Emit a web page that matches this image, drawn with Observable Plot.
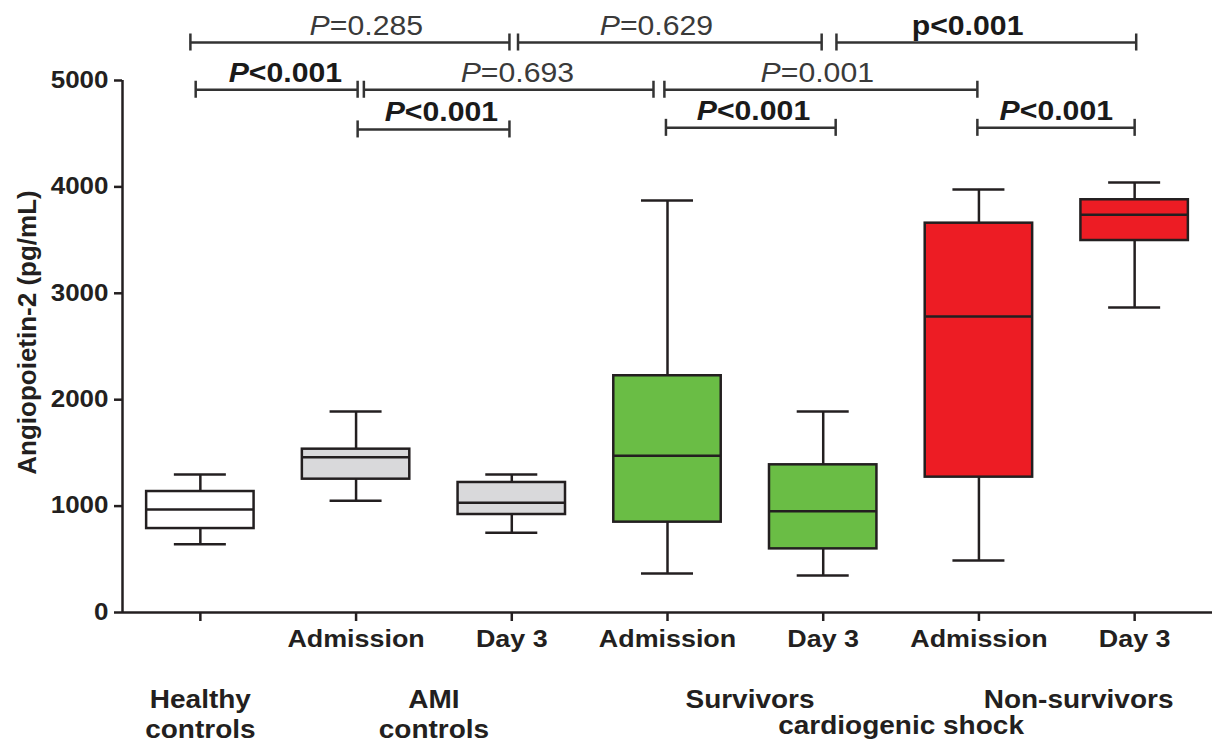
<!DOCTYPE html>
<html><head><meta charset="utf-8">
<script src="https://cdn.jsdelivr.net/npm/d3@7"></script>
<script src="https://cdn.jsdelivr.net/npm/@observablehq/plot@0.6"></script>
<style>body{margin:0;background:#fff} svg{display:block}</style>
</head><body><div id="chart"></div>
<script>
// ---- data ----
const categories = ["Healthy controls", "AMI Admission", "AMI Day 3", "Survivors Admission", "Survivors Day 3", "Non-survivors Admission", "Non-survivors Day 3"];
const tickLabels = ["", "Admission", "Day 3", "Admission", "Day 3", "Admission", "Day 3"];
const whiskerLow  = [642, 1050, 749, 367, 348, 489, 2867];
const q1          = [789, 1253, 921, 849, 598, 1272, 3496];
const median      = [968, 1460, 1031, 1473, 952, 2782, 3738];
const q3          = [1137, 1535, 1222, 2225, 1388, 3659, 3879];
const whiskerHigh = [1297, 1889, 1297, 3872, 1889, 3976, 4041];
const fills = ["#ffffff", "#d9d9db", "#d9d9db", "#6abd45", "#6abd45", "#ed1c24", "#ed1c24"];
const yTicks = [0, 1000, 2000, 3000, 4000, 5000];
const groupLine1 = [
  {text: "Healthy\ncontrols", pos: 0},
  {text: "AMI\ncontrols", pos: 1.5},
  {text: "Survivors", pos: 3.53},
  {text: "Non-survivors", pos: 5.64}
];
const groupLine2 = [{text: "cardiogenic shock", pos: 4.5}];
// comparisons: from/to in category index units, level = y value, label placed at compLabelAt
const compFrom    = [-0.064, 2.04, 4.085, -0.03, 1.05, 2.98, 1.01, 2.99, 4.99];
const compTo      = [1.985, 3.99, 6.01, 1.01, 2.91, 4.99, 1.985, 4.08, 6.0];
const compLevel   = [5357, 5357, 5357, 4913, 4913, 4913, 4540, 4555, 4555];
const compLabel   = ["P=0.285", "P=0.629", "p<0.001", "P<0.001", "P=0.693", "P=0.001", "P<0.001", "P<0.001", "P<0.001"];
const compBold    = [false, false, true, true, false, false, true, true, true];
const compLabelAt = [1.066, 2.929, 4.927, 0.546, 2.036, 3.962, 1.548, 3.552, 5.497];

// ---- derived tables ----
const boxes = categories.map((c, i) => ({i, c, lo: whiskerLow[i], q1: q1[i], med: median[i], q3: q3[i], hi: whiskerHigh[i], fill: fills[i]}));
const comps = compLabel.map((l, k) => ({x1: compFrom[k], x2: compTo[k], y: compLevel[k], label: l, bold: compBold[k], at: compLabelAt[k]}));
const compEnds = comps.flatMap(d => [{x: d.x1, y: d.y}, {x: d.x2, y: d.y}]);

const xDomain = [-0.5, categories.length - 0.5];
const boxHalf = 0.345, capHalf = 0.167, endTick = 80;
const ink = "#231f20";
const font = "'Liberation Sans', Arial, Helvetica, sans-serif";

const chart = Plot.plot({
  width: 1215,
  height: 744,
  marginLeft: 122,
  marginRight: 3,
  marginTop: 12,
  marginBottom: 132,
  style: {fontFamily: font, color: ink, background: "#fff"},
  x: {type: "linear", domain: xDomain},
  y: {domain: [0, 5639]},
  color: {type: "identity"},
  marks: [
    // axes
    Plot.axisY({ticks: yTicks, tickFormat: d => String(d), tickSize: 8, tickPadding: 6, strokeWidth: 2.5, fontSize: 23, fontWeight: "bold", label: null}),
    Plot.axisX({ticks: d3.range(categories.length), tickFormat: i => tickLabels[i], tickSize: 9, tickPadding: 8, strokeWidth: 2.5, fontSize: 24, fontWeight: "bold", label: null}),
    Plot.ruleX([xDomain[0]], {y1: 0, y2: yTicks[yTicks.length - 1], stroke: ink, strokeWidth: 2.5}),
    Plot.ruleY([0], {stroke: ink, strokeWidth: 2.5}),
    // whiskers
    Plot.ruleX(boxes, {x: "i", y1: "lo", y2: "q1", stroke: ink, strokeWidth: 2.5}),
    Plot.ruleX(boxes, {x: "i", y1: "q3", y2: "hi", stroke: ink, strokeWidth: 2.5}),
    Plot.ruleY(boxes, {y: "lo", x1: d => d.i - capHalf, x2: d => d.i + capHalf, stroke: ink, strokeWidth: 2.5}),
    Plot.ruleY(boxes, {y: "hi", x1: d => d.i - capHalf, x2: d => d.i + capHalf, stroke: ink, strokeWidth: 2.5}),
    // boxes
    Plot.rect(boxes, {x1: d => d.i - boxHalf, x2: d => d.i + boxHalf, y1: "q1", y2: "q3", fill: "fill", stroke: ink, strokeWidth: 2.5}),
    Plot.ruleY(boxes, {y: "med", x1: d => d.i - boxHalf, x2: d => d.i + boxHalf, stroke: ink, strokeWidth: 2.5}),
    // comparison brackets
    Plot.ruleY(comps, {y: "y", x1: "x1", x2: "x2", stroke: "#333", strokeWidth: 2.5}),
    Plot.ruleX(compEnds, {x: "x", y1: d => d.y - endTick, y2: d => d.y + endTick, stroke: "#333", strokeWidth: 2.5}),
    Plot.text(comps.filter(d => !d.bold), {x: "at", y: "y", text: "label", lineAnchor: "bottom", dy: -8, fontSize: 27, fill: "#3a3a3a"}),
    Plot.text(comps.filter(d => d.bold), {x: "at", y: "y", text: "label", lineAnchor: "bottom", dy: -8, fontSize: 27, fontWeight: "bold", fill: "#1a1a1a"}),
    // y label
    Plot.text(["Angiopoietin-2 (pg/mL)"], {frameAnchor: "left", textAnchor: "middle", rotate: -90, dx: -95, dy: 20, fontSize: 26, fontWeight: "bold", fill: ink}),
    // group labels
    Plot.text(groupLine1, {x: "pos", text: "text", frameAnchor: "bottom", lineAnchor: "top", dy: 74, lineHeight: 1.2, fontSize: 25, fontWeight: "bold", fill: ink}),
    Plot.text(groupLine2, {x: "pos", text: "text", frameAnchor: "bottom", lineAnchor: "top", dy: 104, fontSize: 25, fontWeight: "bold", fill: ink})
  ]
});
// italic capital P in the P-value labels
chart.querySelectorAll("text").forEach(t => {
  if (t.children.length === 0 && /^P[=<]/.test(t.textContent)) {
    const rest = t.textContent.slice(1);
    t.textContent = "";
    const ts = document.createElementNS("http://www.w3.org/2000/svg", "tspan");
    ts.setAttribute("font-style", "italic");
    ts.textContent = "P";
    t.appendChild(ts);
    t.appendChild(document.createTextNode(rest));
  }
});
// the reference's lettering is slightly wide: stretch text horizontally about its anchor
chart.querySelectorAll("text").forEach(t => {
  const tr = t.getAttribute("transform") || "";
  if (/rotate/.test(tr)) return;
  const isYTick = /^\d+$/.test(t.textContent);
  const s = isYTick ? 1.13 : 1.12;
  if (/translate/.test(tr)) t.setAttribute("transform", tr + ` scale(${s},1)`);
  else {
    const x = +(t.getAttribute("x") || 0);
    t.setAttribute("transform", `translate(${x},0) scale(${s},1) translate(${-x},0)` + (tr ? " " + tr : ""));
  }
});
document.getElementById("chart").appendChild(chart);
</script>
</body></html>
